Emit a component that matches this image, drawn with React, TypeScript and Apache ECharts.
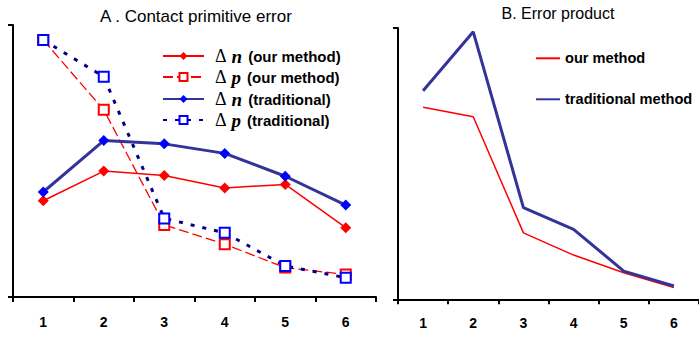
import React, { useEffect, useRef } from "react";
import * as echarts from "echarts";

const categories = ["1", "2", "3", "4", "5", "6"];
const dnOur = [35.4, 46.3, 44.7, 40.1, 41.4, 25.5];
const dpOur = [94.5, 68.8, 26.5, 19.4, 10.8, 8.3];
const dnTrad = [38.6, 57.5, 56.3, 52.8, 44.4, 33.8];
const dpTrad = [94.5, 81.0, 28.9, 23.6, 11.4, 7.1];
const prodOur = [70.8, 67.3, 24.5, 16.3, 9.8, 4.3];
const prodTrad = [76.9, 98.6, 33.8, 25.8, 10.4, 4.9];

const SANS = "Liberation Sans, Arial, sans-serif";
const SERIF = "Liberation Serif, Times New Roman, serif";

const legendNames: Record<string, [string, string]> = {
  dnOur: ["n", "(our method)"],
  dpOur: ["p", "(our method)"],
  dnTrad: ["n", "(traditional)"],
  dpTrad: ["p", "(traditional)"],
};

export default function App() {
  const ref = useRef<HTMLDivElement>(null);
  useEffect(() => {
    if (!ref.current) return;
    const chart = echarts.init(ref.current, undefined, { renderer: "svg" });
    const axisLine = { lineStyle: { color: "#000", width: 2 } };
    const xAxisCommon = {
      type: "category" as const,
      data: categories,
      boundaryGap: true,
      axisLine,
      axisTick: { show: true, length: 5, lineStyle: { color: "#000", width: 2 } },
      axisLabel: { color: "#000", fontSize: 14, fontWeight: "bold", fontFamily: SANS, margin: 18 },
      splitLine: { show: false },
    };
    const yAxisCommon = {
      type: "value" as const,
      min: 0,
      max: 100,
      interval: 100,
      axisLine: { show: true, ...axisLine },
      axisTick: { show: true, length: 5, lineStyle: { color: "#000", width: 2 } },
      axisLabel: { show: false },
      splitLine: { show: false },
    };
    const rich = {
      d: { fontFamily: SERIF, fontSize: 18, color: "#000", padding: [0, 5, 0, 6], lineHeight: 17 },
      v: { fontFamily: SERIF, fontSize: 19, fontStyle: "italic", fontWeight: "bold", color: "#000", padding: [0, 6, 0, 0], lineHeight: 17 },
      t: { fontFamily: SANS, fontSize: 15, fontWeight: "bold", color: "#000", lineHeight: 17 },
    };
    const leftLegend = (name: string, center: number) => ({
      data: [name],
      left: 162,
      top: center - 8.5,
      orient: "vertical" as const,
      padding: 0,
      itemWidth: 41,
      itemHeight: 10,
      formatter: (n: string) => `{d|Δ}{v|${legendNames[n][0]}}{t|${legendNames[n][1]}}`,
      textStyle: { rich },
    });
    const rightLegend = (name: string, center: number) => ({
      data: [name],
      left: 535,
      top: center - 9,
      padding: 0,
      itemWidth: 24,
      itemHeight: 10,
      itemStyle: { opacity: 0 },
      textStyle: { fontFamily: SANS, fontSize: 14.6, fontWeight: "bold", color: "#000", lineHeight: 18 },
    });
    chart.setOption({
      animation: false,
      backgroundColor: "#fff",
      graphic: [
        {
          type: "text",
          x: 196,
          y: 16,
          style: { text: "A . Contact primitive error", fontFamily: SANS, fontSize: 17, fill: "#000", textAlign: "center", textVerticalAlign: "middle" },
        },
        {
          type: "text",
          x: 558,
          y: 13,
          style: { text: "B. Error product", fontFamily: SANS, fontSize: 16, fill: "#000", textAlign: "center", textVerticalAlign: "middle" },
        },
      ],
      legend: [
        leftLegend("dnOur", 55),
        leftLegend("dpOur", 76),
        leftLegend("dnTrad", 98),
        leftLegend("dpTrad", 119),
        rightLegend("our method", 58.3),
        rightLegend("traditional method", 99.3),
      ],
      grid: [
        { left: 13, top: 25, right: 323, bottom: 40 },
        { left: 398, top: 28, right: -10, bottom: 37.7 },
      ],
      xAxis: [
        { ...xAxisCommon, gridIndex: 0 },
        { ...xAxisCommon, gridIndex: 1, axisLabel: { ...xAxisCommon.axisLabel, margin: 17 } },
      ],
      yAxis: [
        { ...yAxisCommon, gridIndex: 0 },
        { ...yAxisCommon, gridIndex: 1 },
      ],
      series: [
        {
          name: "dnOur",
          type: "line",
          data: dnOur,
          xAxisIndex: 0,
          yAxisIndex: 0,
          symbol: "diamond",
          symbolSize: 11,
          lineStyle: { color: "#ff0000", width: 1.5 },
          itemStyle: { color: "#ff0000" },
        },
        {
          name: "dpOur",
          type: "line",
          data: dpOur,
          xAxisIndex: 0,
          yAxisIndex: 0,
          symbol: "emptyRect",
          symbolSize: 10,
          lineStyle: { color: "#ff0000", width: 1.3, type: [10, 4] },
          itemStyle: { color: "#ff0000", borderWidth: 1.2 },
        },
        {
          name: "dnTrad",
          type: "line",
          data: dnTrad,
          xAxisIndex: 0,
          yAxisIndex: 0,
          symbol: "diamond",
          symbolSize: 11,
          lineStyle: { color: "#333399", width: 3 },
          itemStyle: { color: "#0000ff" },
        },
        {
          name: "dpTrad",
          type: "line",
          data: dpTrad,
          xAxisIndex: 0,
          yAxisIndex: 0,
          symbol: "emptyRect",
          symbolSize: 10,
          lineStyle: { color: "#000080", width: 3, type: [4, 8] },
          itemStyle: { color: "#0000ff", borderWidth: 1.2 },
        },
        {
          name: "our method",
          type: "line",
          data: prodOur,
          xAxisIndex: 1,
          yAxisIndex: 1,
          showSymbol: false,
          symbol: "none",
          lineStyle: { color: "#ff0000", width: 1.5 },
          itemStyle: { color: "#ff0000" },
        },
        {
          name: "traditional method",
          type: "line",
          data: prodTrad,
          xAxisIndex: 1,
          yAxisIndex: 1,
          showSymbol: false,
          symbol: "none",
          lineStyle: { color: "#333399", width: 3 },
          itemStyle: { color: "#333399" },
        },
      ],
    });
    return () => chart.dispose();
  }, []);
  return (
    <div
      ref={ref}
      style={{ position: "fixed", left: 0, top: 0, width: 699, height: 337, background: "#fff" }}
    />
  );
}
